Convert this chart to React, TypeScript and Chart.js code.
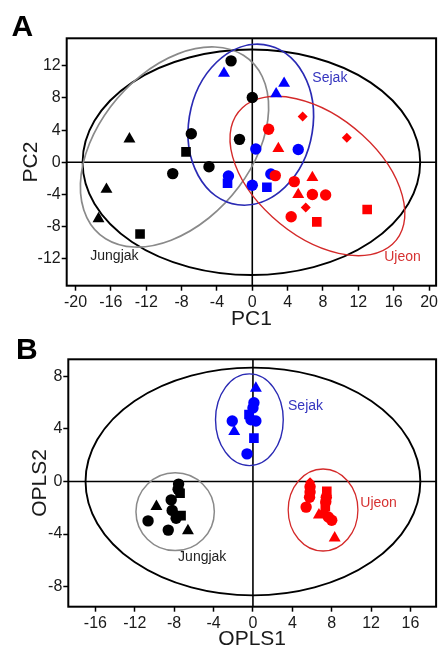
import React, { useEffect, useRef } from 'react';
import { Chart, registerables } from 'chart.js';

Chart.register(...registerables);

// ---------- Panel A (PCA) ----------
const pcaXTicks = [-20, -16, -12, -8, -4, 0, 4, 8, 12, 16, 20];
const pcaYTicks = [-12, -8, -4, 0, 4, 8, 12];
const pcaXRange = [-21, 20.8];
const pcaYRange = [-15.32, 15.4];

const pcaJungjakCircles = [[-2.4, 12.6], [0, 8.05], [-6.9, 3.55], [-1.45, 2.85], [-4.9, -0.55], [-9.0, -1.4]];
const pcaJungjakTriangles = [[-13.9, 2.9], [-16.5, -3.35], [-17.4, -7.0]];
const pcaJungjakSquares = [[-7.5, 1.3], [-12.7, -8.9]];

const pcaSejakCircles = [[0.4, 1.65], [5.2, 1.6], [2.1, -1.45], [0, -2.85], [-2.7, -1.7]];
const pcaSejakTriangles = [[-3.2, 11.05], [3.6, 9.8], [2.7, 8.5]];
const pcaSejakSquares = [[-2.8, -2.6], [1.65, -3.1]];

const pcaUjeonCircles = [[1.85, 4.1], [2.6, -1.65], [4.75, -2.4], [6.8, -4.0], [8.3, -4.05], [4.4, -6.75]];
const pcaUjeonTriangles = [[2.95, 1.7], [6.8, -1.9], [5.2, -4.0]];
const pcaUjeonSquares = [[7.3, -7.4], [13.0, -5.85]];
const pcaUjeonDiamonds = [[5.7, 5.7], [10.7, 3.05], [6.05, -5.6]];

// ellipses: [centerX, centerY, semiAxisA, semiAxisB, angleDeg]
const pcaEllipseAll = [-0.1, 0, 19.1, 14.0, 0];
const pcaEllipseJungjak = [-8.8, 1.9, 13.8, 8.8, 55.6];
const pcaEllipseSejak = [-0.17, 4.67, 10.05, 7.02, 81.6];
const pcaEllipseUjeon = [7.37, -1.7, 12.0, 7.2, -45];

// group labels: [x, y]
const pcaLabelSejak = [8.78, 10.44];
const pcaLabelJungjak = [-15.6, -11.7];
const pcaLabelUjeon = [17.0, -11.8];

// ---------- Panel B (OPLS) ----------
const oplsXTicks = [-16, -12, -8, -4, 0, 4, 8, 12, 16];
const oplsYTicks = [-8, -4, 0, 4, 8];
const oplsXRange = [-18.75, 18.6];
const oplsYRange = [-9.53, 9.3];

const oplsJungjakCircles = [[-7.55, -0.2], [-7.6, -0.6], [-8.3, -1.4], [-8.2, -2.2], [-7.8, -2.8], [-10.65, -3.0], [-8.6, -3.7]];
const oplsJungjakTriangles = [[-9.8, -1.9], [-6.6, -3.75]];
const oplsJungjakSquares = [[-7.4, -0.9], [-7.3, -2.6]];

const oplsSejakCircles = [[0.1, 6.0], [0.0, 5.6], [-0.2, 4.7], [0.3, 4.6], [-2.1, 4.6], [-0.6, 2.1]];
const oplsSejakTriangles = [[0.3, 7.1], [-1.9, 3.8]];
const oplsSejakSquares = [[-0.4, 5.1], [0.1, 3.3]];

const oplsUjeonCircles = [[5.8, -0.4], [5.8, -0.8], [5.75, -1.2], [5.4, -1.95], [7.45, -1.2], [7.4, -1.55], [7.65, -2.7], [8.0, -2.95]];
const oplsUjeonTriangles = [[6.7, -2.55], [8.3, -4.3]];
const oplsUjeonSquares = [[7.5, -0.75], [7.35, -1.9]];
const oplsUjeonDiamonds = [[5.8, -0.05], [7.2, -2.3]];

const oplsEllipseAll = [0, 0, 17.0, 8.67, 0];
const oplsEllipseJungjak = [-7.9, -2.3, 3.98, 2.96, 0];
const oplsEllipseSejak = [-0.36, 4.7, 3.44, 3.49, 0];
const oplsEllipseUjeon = [7.12, -2.17, 3.54, 3.12, 0];

const oplsLabelSejak = [5.34, 5.71];
const oplsLabelJungjak = [-5.15, -5.78];
const oplsLabelUjeon = [12.76, -1.68];

// ---------- styles ----------
const FONT = "'Liberation Sans', Arial, Helvetica, sans-serif";
const COL = {
  jungjak: '#000000',
  sejak: '#0000ff',
  ujeon: '#ff0000',
  ellAll: '#000000',
  ellJungjak: '#8a8a8a',
  ellSejak: '#2a2ab4',
  ellUjeon: '#d42a2a',
  txtSejak: '#3535bf',
  txtUjeon: '#d63232',
  txtJungjak: '#222222',
};
const R = { circle: 5.7, triangle: 6.9, rect: 6.8, rectRot: 5 };

const overlayPlugin = {
  id: 'overlay',
  beforeDatasetsDraw(chart: any) {
    const o = chart.options.plugins.overlay;
    const { ctx, chartArea, scales } = chart;
    const x = scales.x;
    const y = scales.y;
    ctx.save();
    ctx.beginPath();
    ctx.rect(chartArea.left, chartArea.top, chartArea.right - chartArea.left, chartArea.bottom - chartArea.top);
    ctx.clip();
    // zero lines
    const x0 = x.getPixelForValue(0);
    const y0 = y.getPixelForValue(0);
    ctx.strokeStyle = '#000';
    ctx.lineWidth = 1.6;
    ctx.beginPath();
    ctx.moveTo(x0, chartArea.top);
    ctx.lineTo(x0, chartArea.bottom);
    ctx.moveTo(chartArea.left, y0);
    ctx.lineTo(chartArea.right, y0);
    ctx.stroke();
    // ellipses
    const sx = x.getPixelForValue(1) - x.getPixelForValue(0);
    const sy = y.getPixelForValue(1) - y.getPixelForValue(0);
    for (const e of o.ellipses) {
      const [cx, cy, a, b, ang] = e.p;
      ctx.save();
      ctx.translate(x.getPixelForValue(cx), y.getPixelForValue(cy));
      ctx.scale(sx, sy);
      ctx.rotate((ang * Math.PI) / 180);
      ctx.beginPath();
      ctx.ellipse(0, 0, a, b, 0, 0, Math.PI * 2);
      ctx.restore();
      ctx.strokeStyle = e.color;
      ctx.lineWidth = e.width;
      ctx.stroke();
    }
    ctx.restore();
  },
  afterDatasetsDraw(chart: any) {
    const o = chart.options.plugins.overlay;
    const { ctx, scales } = chart;
    ctx.save();
    ctx.font = `14px ${FONT}`;
    ctx.textAlign = 'center';
    ctx.textBaseline = 'middle';
    for (const l of o.labels) {
      ctx.fillStyle = l.color;
      ctx.fillText(l.text, scales.x.getPixelForValue(l.p[0]), scales.y.getPixelForValue(l.p[1]));
    }
    ctx.restore();
  },
  afterDraw(chart: any) {
    const { ctx, chartArea } = chart;
    ctx.save();
    ctx.strokeStyle = '#000';
    ctx.lineWidth = 2;
    ctx.strokeRect(chartArea.left, chartArea.top, chartArea.right - chartArea.left, chartArea.bottom - chartArea.top);
    ctx.restore();
  },
};

function ds(data: number[][], color: string, style: string) {
  return {
    type: 'scatter',
    data: data.map(([x, y]) => ({ x, y })),
    pointStyle: style,
    pointRadius: (R as any)[style],
    pointHoverRadius: (R as any)[style],
    backgroundColor: color,
    borderColor: color,
    borderWidth: 0,
    showLine: false,
  };
}

function buildConfig(p: any) {
  const axisCommon = {
    type: 'linear',
    border: { display: false },
    grid: { drawOnChartArea: false, drawTicks: true, tickLength: 5, color: 'rgba(0,0,0,0)', tickColor: '#000', tickWidth: 1.5 },
  };
  return {
    type: 'scatter',
    data: { datasets: p.datasets },
    plugins: [overlayPlugin],
    options: {
      responsive: false,
      animation: false,
      devicePixelRatio: 1,
      events: [],
      layout: { padding: { left: 0, right: 1.7, top: p.padTop, bottom: 0 } },
      plugins: {
        legend: { display: false },
        tooltip: { enabled: false },
        overlay: { ellipses: p.ellipses, labels: p.labels },
      },
      scales: {
        x: {
          ...axisCommon,
          position: 'bottom',
          min: p.xRange[0],
          max: p.xRange[1],
          afterBuildTicks: (s: any) => { s.ticks = p.xTicks.map((v: number) => ({ value: v })); },
          afterFit: (s: any) => { s.height = p.xAxisHeight; s.paddingLeft = 0; s.paddingRight = 0; },
          ticks: { autoSkip: false, maxRotation: 0, padding: 2, color: '#1a1a1a', font: { size: 16, family: FONT } },
          title: { display: true, text: p.xTitle, color: '#1a1a1a', font: { size: 21, family: FONT }, padding: { top: 0, bottom: p.xTitlePad } },
        },
        y: {
          ...axisCommon,
          position: 'left',
          min: p.yRange[0],
          max: p.yRange[1],
          afterBuildTicks: (s: any) => { s.ticks = p.yTicks.map((v: number) => ({ value: v })); },
          afterFit: (s: any) => { s.width = p.yAxisWidth; s.paddingTop = 0; s.paddingBottom = 0; },
          ticks: { autoSkip: false, padding: 1, color: '#1a1a1a', font: { size: 16, family: FONT } },
          title: { display: true, text: p.yTitle, color: '#1a1a1a', font: { size: 21, family: FONT }, padding: { top: p.yTitlePad, bottom: 0 } },
        },
      },
    },
  };
}

const panelA = {
  xTicks: pcaXTicks, yTicks: pcaYTicks, xRange: pcaXRange, yRange: pcaYRange,
  xTitle: 'PC1', yTitle: 'PC2', padTop: 38.3, xAxisHeight: 49.3, yAxisWidth: 66.7, xTitlePad: 3.4, yTitlePad: 18.4,
  datasets: [
    ds(pcaUjeonCircles, COL.ujeon, 'circle'),
    ds(pcaUjeonTriangles, COL.ujeon, 'triangle'),
    ds(pcaUjeonSquares, COL.ujeon, 'rect'),
    ds(pcaUjeonDiamonds, COL.ujeon, 'rectRot'),
    ds(pcaSejakCircles, COL.sejak, 'circle'),
    ds(pcaSejakTriangles, COL.sejak, 'triangle'),
    ds(pcaSejakSquares, COL.sejak, 'rect'),
    ds(pcaJungjakCircles, COL.jungjak, 'circle'),
    ds(pcaJungjakTriangles, COL.jungjak, 'triangle'),
    ds(pcaJungjakSquares, COL.jungjak, 'rect'),
  ],
  ellipses: [
    { p: pcaEllipseAll, color: COL.ellAll, width: 1.9 },
    { p: pcaEllipseJungjak, color: COL.ellJungjak, width: 1.7 },
    { p: pcaEllipseSejak, color: COL.ellSejak, width: 1.7 },
    { p: pcaEllipseUjeon, color: COL.ellUjeon, width: 1.4 },
  ],
  labels: [
    { text: 'Sejak', p: pcaLabelSejak, color: COL.txtSejak },
    { text: 'Jungjak', p: pcaLabelJungjak, color: COL.txtJungjak },
    { text: 'Ujeon', p: pcaLabelUjeon, color: COL.txtUjeon },
  ],
};

const panelB = {
  xTicks: oplsXTicks, yTicks: oplsYTicks, xRange: oplsXRange, yRange: oplsYRange,
  xTitle: 'OPLS1', yTitle: 'OPLS2', padTop: 24.3, xAxisHeight: 48.3, yAxisWidth: 68.3, xTitlePad: 3.1, yTitlePad: 27.4,
  datasets: [
    ds(oplsUjeonCircles, COL.ujeon, 'circle'),
    ds(oplsUjeonTriangles, COL.ujeon, 'triangle'),
    ds(oplsUjeonSquares, COL.ujeon, 'rect'),
    ds(oplsUjeonDiamonds, COL.ujeon, 'rectRot'),
    ds(oplsSejakCircles, COL.sejak, 'circle'),
    ds(oplsSejakTriangles, COL.sejak, 'triangle'),
    ds(oplsSejakSquares, COL.sejak, 'rect'),
    ds(oplsJungjakCircles, COL.jungjak, 'circle'),
    ds(oplsJungjakTriangles, COL.jungjak, 'triangle'),
    ds(oplsJungjakSquares, COL.jungjak, 'rect'),
  ],
  ellipses: [
    { p: oplsEllipseAll, color: COL.ellAll, width: 1.9 },
    { p: oplsEllipseJungjak, color: COL.ellJungjak, width: 1.5 },
    { p: oplsEllipseSejak, color: COL.ellSejak, width: 1.4 },
    { p: oplsEllipseUjeon, color: COL.ellUjeon, width: 1.3 },
  ],
  labels: [
    { text: 'Sejak', p: oplsLabelSejak, color: COL.txtSejak },
    { text: 'Jungjak', p: oplsLabelJungjak, color: COL.txtJungjak },
    { text: 'Ujeon', p: oplsLabelUjeon, color: COL.txtUjeon },
  ],
};

function Panel({ spec, top, height }: { spec: any; top: number; height: number }) {
  const ref = useRef<HTMLCanvasElement>(null);
  useEffect(() => {
    if (!ref.current) return;
    const chart = new Chart(ref.current, buildConfig(spec) as any);
    return () => chart.destroy();
  }, [spec]);
  return (
    <canvas
      ref={ref}
      width={443}
      height={height}
      style={{ position: 'absolute', left: 0, top, width: 443, height, display: 'block' }}
    />
  );
}

export default function App() {
  const letter = { position: 'absolute' as const, fontFamily: FONT, fontWeight: 700, fontSize: 30, lineHeight: '30px', color: '#000' };
  return (
    <div style={{ position: 'fixed', left: 0, top: 0, width: 443, height: 648, overflow: 'hidden', background: '#fff' }}>
      <Panel spec={panelA} top={0} height={335} />
      <Panel spec={panelB} top={335} height={320} />
      <div style={{ ...letter, left: 11.5, top: 11.1 }}>A</div>
      <div style={{ ...letter, left: 16.1, top: 334.4 }}>B</div>
    </div>
  );
}
